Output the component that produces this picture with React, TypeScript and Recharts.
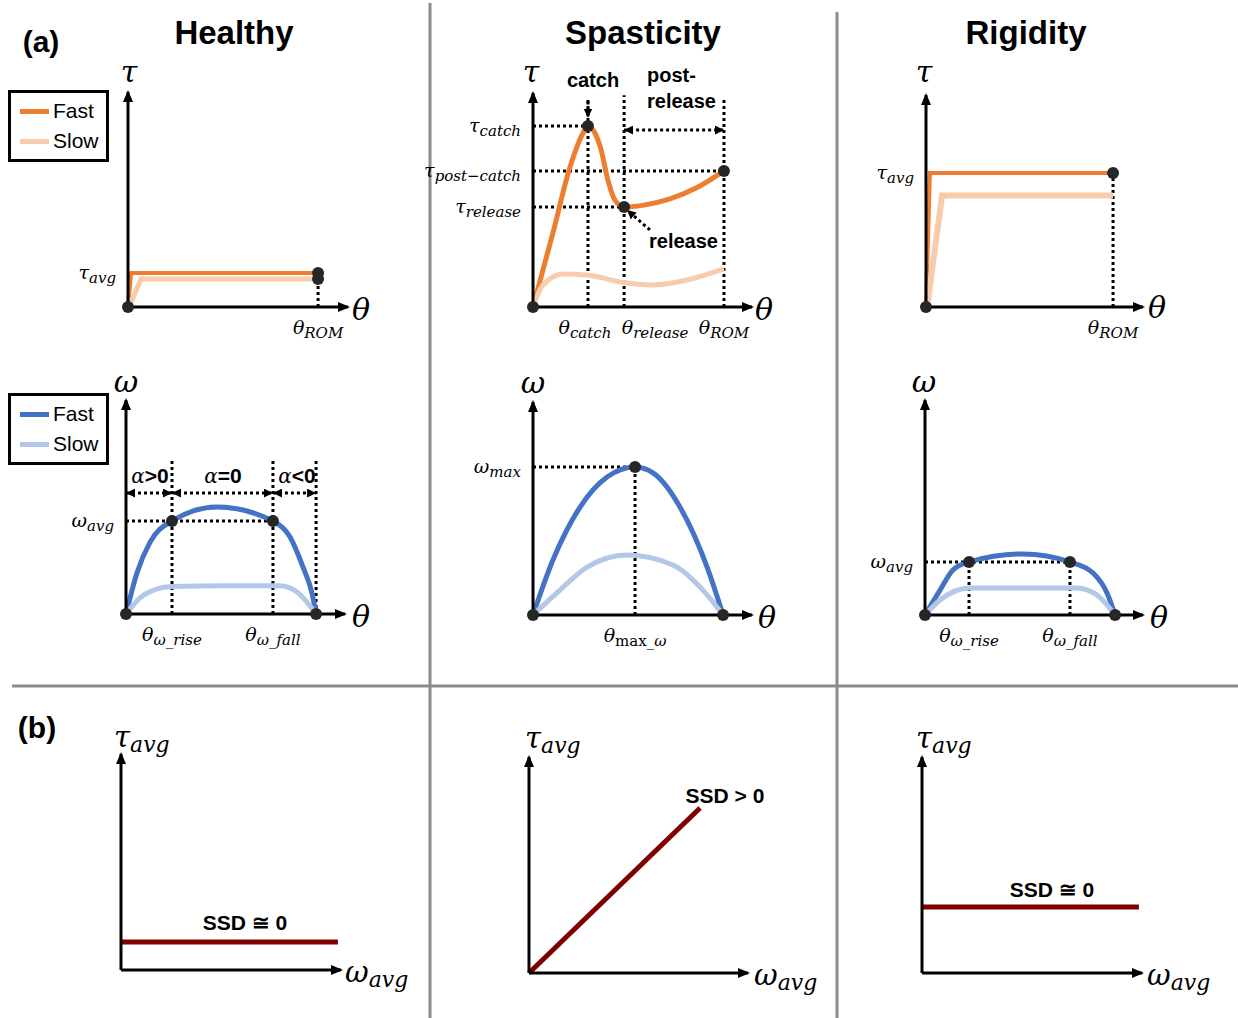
import React from 'react';
import { LineChart, Line, XAxis, YAxis, ReferenceLine, ReferenceDot, Legend } from 'recharts';

const SANS = '"Liberation Sans", Arial, Helvetica, sans-serif';
const SERIF = '"DejaVu Serif", "Liberation Serif", serif';

type Pt = { x: number; y: number };
type Lab = { main: string; sub?: string; plain?: string };
type Guide = { a: Pt; b: Pt; head?: 'end' | 'both' };

// ---------------- DATA (axis units: 0..100 of each drawn axis) ----------------
const names = ['Fast', 'Slow'];

// (a) Healthy – torque vs angle
const healthyTauFast: Pt[] = [{ x: 0, y: 0 }, { x: 1.4, y: 15.8 }, { x: 86.4, y: 15.8 }];
const healthyTauSlow: Pt[] = [{ x: 0.5, y: 0 }, { x: 5.9, y: 13.0 }, { x: 86.4, y: 13.0 }];
const healthyTauXTicks = [86.4];
const healthyTauXLabels: Lab[] = [{ main: 'θ', sub: 'ROM' }];
const healthyTauYTicks = [15.8];
const healthyTauYLabels: Lab[] = [{ main: 'τ', sub: 'avg' }];

// (a) Spasticity – torque vs angle
const spasTauFast: Pt[] = [
  { x: 0, y: 0 }, { x: 9.1, y: 34.6 }, { x: 16.9, y: 65.4 }, { x: 22.4, y: 80.4 }, { x: 25.1, y: 84.6 },
  { x: 28.3, y: 81.3 }, { x: 31.1, y: 73.4 }, { x: 34.2, y: 59.3 }, { x: 37.4, y: 50.0 }, { x: 41.6, y: 46.7 },
  { x: 50.0, y: 47.5 }, { x: 62.6, y: 50.5 }, { x: 74.9, y: 55.8 }, { x: 87.2, y: 63.6 },
];
const spasTauSlow: Pt[] = [
  { x: 0, y: 0 }, { x: 4.6, y: 10.3 }, { x: 13.7, y: 15.4 }, { x: 24.7, y: 15.0 }, { x: 39.7, y: 11.7 },
  { x: 54.8, y: 10.3 }, { x: 70.3, y: 12.6 }, { x: 87.2, y: 17.8 },
];
const spasTauXTicks = [25.1, 41.6, 87.2];
const spasTauXLabels: Lab[] = [{ main: 'θ', sub: 'catch' }, { main: 'θ', sub: 'release' }, { main: 'θ', sub: 'ROM' }];
const spasTauYTicks = [84.6, 63.6, 46.7];
const spasTauYLabels: Lab[] = [{ main: 'τ', sub: 'catch' }, { main: 'τ', sub: 'post−catch' }, { main: 'τ', sub: 'release' }];

// (a) Rigidity – torque vs angle
const rigTauFast: Pt[] = [{ x: 0, y: 0 }, { x: 1.8, y: 63.2 }, { x: 86.2, y: 63.2 }];
const rigTauSlow: Pt[] = [{ x: 0.5, y: 0 }, { x: 7.4, y: 52.6 }, { x: 86.2, y: 52.6 }];
const rigTauXTicks = [86.2];
const rigTauXLabels: Lab[] = [{ main: 'θ', sub: 'ROM' }];
const rigTauYTicks = [63.2];
const rigTauYLabels: Lab[] = [{ main: 'τ', sub: 'avg' }];

// (a) Healthy – velocity vs angle
const healthyOmFast: Pt[] = [
  { x: 0, y: 0 }, { x: 5.0, y: 19.2 }, { x: 11.0, y: 33.6 }, { x: 21.0, y: 43.5 }, { x: 41.6, y: 50.0 },
  { x: 67.1, y: 43.5 }, { x: 74.9, y: 36.0 }, { x: 80.8, y: 22.0 }, { x: 84.9, y: 9.8 }, { x: 86.8, y: 0 },
];
const healthyOmSlow: Pt[] = [
  { x: 0, y: 0 }, { x: 6.4, y: 7.5 }, { x: 14.2, y: 11.7 }, { x: 21.0, y: 12.8 }, { x: 45.0, y: 13.2 },
  { x: 70.3, y: 13.2 }, { x: 78.1, y: 10.3 }, { x: 86.8, y: 0 },
];
const healthyOmXTicks = [21.0, 67.1];
const healthyOmXLabels: Lab[] = [{ main: 'θ', sub: 'ω_rise' }, { main: 'θ', sub: 'ω_fall' }];
const healthyOmYTicks = [43.5];
const healthyOmYLabels: Lab[] = [{ main: 'ω', sub: 'avg' }];

// (a) Spasticity – velocity vs angle
const spasOmFast: Pt[] = [
  { x: 0, y: 0 }, { x: 9.1, y: 25.8 }, { x: 21.5, y: 50.7 }, { x: 33.8, y: 64.8 }, { x: 46.6, y: 69.5 },
  { x: 54.8, y: 66.7 }, { x: 67.1, y: 50.7 }, { x: 79.5, y: 22.5 }, { x: 86.8, y: 0 },
];
const spasOmSlow: Pt[] = [
  { x: 0, y: 0 }, { x: 12.3, y: 11.7 }, { x: 24.7, y: 22.5 }, { x: 42.9, y: 28.2 }, { x: 63.9, y: 23.5 },
  { x: 77.6, y: 11.7 }, { x: 86.8, y: 0 },
];
const spasOmXTicks = [46.6];
const spasOmXLabels: Lab[] = [{ main: 'θ', plain: 'max', sub: '_ω' }];
const spasOmYTicks = [69.5];
const spasOmYLabels: Lab[] = [{ main: 'ω', sub: 'max' }];

// (a) Rigidity – velocity vs angle
const rigOmFast: Pt[] = [
  { x: 0, y: 0 }, { x: 6.9, y: 11.6 }, { x: 12.8, y: 20.9 }, { x: 20.2, y: 24.7 }, { x: 45.0, y: 28.4 },
  { x: 66.5, y: 24.7 }, { x: 77.1, y: 19.5 }, { x: 83.5, y: 10.2 }, { x: 87.2, y: 0 },
];
const rigOmSlow: Pt[] = [
  { x: 0, y: 0 }, { x: 6.9, y: 7.0 }, { x: 20.6, y: 12.6 }, { x: 69.7, y: 12.6 }, { x: 78.9, y: 9.3 }, { x: 87.2, y: 0 },
];
const rigOmXTicks = [20.2, 66.5];
const rigOmXLabels: Lab[] = [{ main: 'θ', sub: 'ω_rise' }, { main: 'θ', sub: 'ω_fall' }];
const rigOmYTicks = [24.7];
const rigOmYLabels: Lab[] = [{ main: 'ω', sub: 'avg' }];

// (b) torque vs velocity
const ssdHealthy: Pt[] = [{ x: 0, y: 13.0 }, { x: 98.6, y: 13.0 }];
const ssdSpas: Pt[] = [{ x: 0, y: 0 }, { x: 78.1, y: 76.4 }];
const ssdRig: Pt[] = [{ x: 0, y: 30.6 }, { x: 98.6, y: 30.6 }];

// ---------------- STYLE / LAYOUT ----------------
const ORANGE = '#ED7D31';
const ORANGE_L = '#F8CBAD';
const BLUE = '#4472C4';
const BLUE_L = '#B4C7E7';
const DARKRED = '#800000';
const DOT = '#262626';
const GRAY = '#8C8C8C';
const M = { l: 140, r: 60, t: 60, b: 60 };
const AX = 1; // axis band size (must be > 0 for Recharts to draw the axis)
const spasTauXLabelShift = [-3, 31, 0]; // horizontal nudge (px) of the x tick labels

type Series = { name: string; data: Pt[]; color: string; width: number; curve: 'linear' | 'monotone' };
type Box = { ox: number; oy: number; w: number; h: number };

const mathText = (x: number, y: number, lab: Lab, anchor: string, mainSize: number, subSize: number, subDy: number, key?: string) => (
  <text key={key} x={x} y={y} textAnchor={anchor} fontFamily={SERIF} fill="#000">
    <tspan fontStyle="italic" fontSize={mainSize}>{lab.main}</tspan>
    {lab.plain ? <tspan fontSize={subSize} dy={subDy}>{lab.plain}</tspan> : null}
    {lab.sub ? <tspan fontStyle="italic" fontSize={subSize} dy={lab.plain ? 0 : subDy}>{lab.sub}</tspan> : null}
  </text>
);

const xTickRenderer = (ticks: number[], labels: Lab[], shift: number[]) => (p: any) => {
  const i = ticks.indexOf(p.payload.value);
  if (i < 0) return <g />;
  return <g>{mathText(p.x + (shift[i] || 0), p.y + 27, labels[i], 'middle', 19, 15, 4)}</g>;
};
const yTickRenderer = (ticks: number[], labels: Lab[]) => (p: any) => {
  const i = ticks.indexOf(p.payload.value);
  if (i < 0) return <g />;
  return <g>{mathText(p.x - 12, p.y + 6, labels[i], 'end', 19, 15, 4)}</g>;
};

const guideShape = (head?: 'end' | 'both') => (p: any) => (
  <line
    x1={p.x1} y1={p.y1} x2={p.x2} y2={p.y2}
    stroke="#000" strokeWidth={3} strokeDasharray="3 3"
    markerEnd={head ? 'url(#gArrow)' : undefined}
    markerStart={head === 'both' ? 'url(#gArrow)' : undefined}
  />
);

const renderLegend = (props: any) => {
  const payload = props.payload || [];
  return (
    <div style={{ border: '3px solid #000', background: '#fff', padding: '3px 6px 3px 9px', width: 101, boxSizing: 'border-box', fontFamily: SANS, fontSize: 21, color: '#000' }}>
      {payload.map((e: any) => (
        <div key={e.value} style={{ display: 'flex', alignItems: 'center', height: 30 }}>
          <span style={{ display: 'inline-block', width: 29, height: 5, background: e.color, marginRight: 4 }} />
          <span>{e.value}</span>
        </div>
      ))}
    </div>
  );
};

type PanelProps = {
  box: Box; series: Series[]; dots?: Pt[]; guides?: Guide[];
  xTicks?: number[]; xLabels?: Lab[]; xShift?: number[]; yTicks?: number[]; yLabels?: Lab[];
  legendAt?: Pt;
};

function Panel({ box, series, dots = [], guides = [], xTicks = [], xLabels = [], xShift = [], yTicks = [], yLabels = [], legendAt }: PanelProps) {
  const { ox, oy, w, h } = box;
  const left = ox - M.l - AX;
  const top = oy - h - M.t;
  return (
    <div style={{ position: 'absolute', left, top }}>
      <LineChart width={M.l + AX + w + M.r} height={M.t + h + AX + M.b} margin={{ top: M.t, right: M.r, bottom: M.b, left: M.l }}>
        <XAxis
          type="number" dataKey="x" domain={[0, 100]} ticks={xTicks.length ? xTicks : [0]} interval={0}
          height={AX} tickSize={0} tickMargin={0} tickLine={false}
          tick={xTicks.length ? xTickRenderer(xTicks, xLabels, xShift) : false}
          axisLine={{ stroke: '#000', strokeWidth: 3, markerEnd: 'url(#axArrow)' } as any}
        />
        <YAxis
          type="number" domain={[0, 100]} ticks={yTicks.length ? yTicks : [0]} interval={0}
          width={AX} tickSize={0} tickMargin={0} tickLine={false}
          tick={yTicks.length ? yTickRenderer(yTicks, yLabels) : false}
          axisLine={{ stroke: '#000', strokeWidth: 3, markerStart: 'url(#axArrow)' } as any}
        />
        {guides.map((g, i) => (
          <ReferenceLine key={'g' + i} segment={[g.a, g.b]} ifOverflow="visible" shape={guideShape(g.head) as any} />
        ))}
        {series.map((s) => (
          <Line key={s.name} name={s.name} data={s.data} dataKey="y" type={s.curve} stroke={s.color}
            strokeWidth={s.width} dot={false} activeDot={false} isAnimationActive={false} />
        ))}
        {dots.map((d, i) => (
          <ReferenceDot key={'d' + i} x={d.x} y={d.y} r={6} fill={DOT} stroke="none" ifOverflow="visible" />
        ))}
        {legendAt ? (
          <Legend layout="vertical" align="center" verticalAlign="middle" content={renderLegend}
            wrapperStyle={{ left: legendAt.x - left, top: legendAt.y - top, width: 'auto', height: 'auto' }} />
        ) : null}
      </LineChart>
    </div>
  );
}

const T = ({ x, y, size = 20, weight = 'normal', anchor = 'middle', children }: any) => (
  <text x={x} y={y} fontSize={size} fontWeight={weight} textAnchor={anchor} fontFamily={SANS} fill="#000">{children}</text>
);
const AxisLetter = ({ x, y, children }: any) => (
  <text x={x} y={y} fontSize={30} fontStyle="italic" textAnchor="middle" fontFamily={SERIF} fill="#000">{children}</text>
);
const Alpha = ({ x, y, rest }: any) => (
  <text x={x} y={y} textAnchor="middle" fill="#000">
    <tspan fontFamily={SERIF} fontStyle="italic" fontSize={20}>α</tspan>
    <tspan fontFamily={SANS} fontWeight="bold" fontSize={21}>{rest}</tspan>
  </text>
);

export default function App() {
  const orange = (f: Pt[], s: Pt[], fw = 4, sw = 5, curve: 'linear' | 'monotone' = 'linear'): Series[] => [
    { name: names[0], data: f, color: ORANGE, width: fw, curve },
    { name: names[1], data: s, color: ORANGE_L, width: sw, curve },
  ];
  const blue = (f: Pt[], s: Pt[]): Series[] => [
    { name: names[0], data: f, color: BLUE, width: 5, curve: 'monotone' },
    { name: names[1], data: s, color: BLUE_L, width: 5, curve: 'monotone' },
  ];
  const red = (d: Pt[]): Series[] => [{ name: 'SSD', data: d, color: DARKRED, width: 5, curve: 'linear' }];

  return (
    <div style={{ position: 'absolute', left: 0, top: 0, width: 1238, height: 1018, background: '#fff', overflow: 'hidden' }}>
      <svg width={1238} height={1018} style={{ position: 'absolute', left: 0, top: 0 }}>
        <defs>
          <marker id="axArrow" viewBox="0 0 12 10" markerWidth={12} markerHeight={10} refX={10} refY={5}
            markerUnits="userSpaceOnUse" orient="auto-start-reverse">
            <path d="M0,0 L12,5 L0,10 Z" fill="#000" />
          </marker>
          <marker id="gArrow" viewBox="0 0 9 9" markerWidth={9} markerHeight={9} refX={9} refY={4.5}
            markerUnits="userSpaceOnUse" orient="auto-start-reverse">
            <path d="M0,0 L9,4.5 L0,9 Z" fill="#000" />
          </marker>
        </defs>
        {/* dividers */}
        <line x1={430} y1={3} x2={430} y2={1018} stroke={GRAY} strokeWidth={3} />
        <line x1={837} y1={12} x2={837} y2={1018} stroke={GRAY} strokeWidth={3} />
        <line x1={12} y1={686} x2={1238} y2={686} stroke={GRAY} strokeWidth={3} />

        <T x={41} y={52} size={30} weight="bold">(a)</T>
        <T x={234} y={44} size={33} weight="bold">Healthy</T>
        <T x={643} y={44} size={33} weight="bold">Spasticity</T>
        <T x={1026} y={44} size={33} weight="bold">Rigidity</T>
        <T x={37} y={738} size={30} weight="bold">(b)</T>

        <AxisLetter x={129} y={82}>τ</AxisLetter>
        <AxisLetter x={361} y={320}>θ</AxisLetter>
        <AxisLetter x={531} y={82}>τ</AxisLetter>
        <AxisLetter x={764} y={320}>θ</AxisLetter>
        <AxisLetter x={924} y={82}>τ</AxisLetter>
        <AxisLetter x={1157} y={318}>θ</AxisLetter>
        <AxisLetter x={126} y={392}>ω</AxisLetter>
        <AxisLetter x={361} y={627}>θ</AxisLetter>
        <AxisLetter x={533} y={393}>ω</AxisLetter>
        <AxisLetter x={767} y={628}>θ</AxisLetter>
        <AxisLetter x={924} y={392}>ω</AxisLetter>
        <AxisLetter x={1159} y={628}>θ</AxisLetter>

        <T x={593} y={87} weight="bold">catch</T>
        <T x={647} y={82} weight="bold" anchor="start">post-</T>
        <T x={647} y={108} weight="bold" anchor="start">release</T>
        <T x={649} y={248} weight="bold" anchor="start">release</T>

        <Alpha x={150} y={483} rest=">0" />
        <Alpha x={223} y={483} rest="=0" />
        <Alpha x={297} y={483} rest="<0" />

        <T x={245} y={930} size={21} weight="bold">SSD ≅ 0</T>
        <T x={725} y={803} size={21} weight="bold">SSD &gt; 0</T>
        <T x={1052} y={897} size={21} weight="bold">SSD ≅ 0</T>

        {mathText(114, 747, { main: 'τ', sub: 'avg' }, 'start', 29, 22, 5, 'b1')}
        {mathText(525, 748, { main: 'τ', sub: 'avg' }, 'start', 29, 22, 5, 'b2')}
        {mathText(916, 748, { main: 'τ', sub: 'avg' }, 'start', 29, 22, 5, 'b3')}
        {mathText(345, 982, { main: 'ω', sub: 'avg' }, 'start', 29, 22, 5, 'b4')}
        {mathText(754, 985, { main: 'ω', sub: 'avg' }, 'start', 29, 22, 5, 'b5')}
        {mathText(1147, 985, { main: 'ω', sub: 'avg' }, 'start', 29, 22, 5, 'b6')}
      </svg>

      <Panel
        box={{ ox: 128, oy: 307, w: 220, h: 215 }}
        series={orange(healthyTauFast, healthyTauSlow)}
        dots={[{ x: 0, y: 0 }, { x: 86.4, y: 15.8 }, { x: 86.4, y: 13.0 }]}
        guides={[{ a: { x: 86.4, y: 0 }, b: { x: 86.4, y: 13.0 } }]}
        xTicks={healthyTauXTicks} xLabels={healthyTauXLabels} yTicks={healthyTauYTicks} yLabels={healthyTauYLabels}
        legendAt={{ x: 8, y: 90 }}
      />
      <Panel
        box={{ ox: 533, oy: 307, w: 219, h: 214 }}
        series={orange(spasTauFast, spasTauSlow, 5, 5, 'monotone')}
        dots={[{ x: 0, y: 0 }, { x: 25.1, y: 84.6 }, { x: 41.6, y: 46.7 }, { x: 87.2, y: 63.6 }]}
        guides={[
          { a: { x: 25.1, y: 0 }, b: { x: 25.1, y: 98 } },
          { a: { x: 41.6, y: 0 }, b: { x: 41.6, y: 99 } },
          { a: { x: 87.2, y: 0 }, b: { x: 87.2, y: 98 } },
          { a: { x: 0, y: 84.6 }, b: { x: 25.1, y: 84.6 } },
          { a: { x: 0, y: 63.6 }, b: { x: 87.2, y: 63.6 } },
          { a: { x: 0, y: 46.7 }, b: { x: 41.6, y: 46.7 } },
          { a: { x: 25.1, y: 96 }, b: { x: 25.1, y: 88.5 }, head: 'end' },
          { a: { x: 41.6, y: 82.7 }, b: { x: 87.2, y: 82.7 }, head: 'both' },
          { a: { x: 53.4, y: 36.0 }, b: { x: 42.9, y: 45.3 }, head: 'end' },
        ]}
        xTicks={spasTauXTicks} xLabels={spasTauXLabels} xShift={spasTauXLabelShift}
        yTicks={spasTauYTicks} yLabels={spasTauYLabels}
      />
      <Panel
        box={{ ox: 926, oy: 307, w: 217, h: 212 }}
        series={orange(rigTauFast, rigTauSlow, 4, 6)}
        dots={[{ x: 0, y: 0 }, { x: 86.2, y: 63.2 }]}
        guides={[{ a: { x: 86.2, y: 0 }, b: { x: 86.2, y: 63.2 } }]}
        xTicks={rigTauXTicks} xLabels={rigTauXLabels} yTicks={rigTauYTicks} yLabels={rigTauYLabels}
      />
      <Panel
        box={{ ox: 126, oy: 614, w: 219, h: 214 }}
        series={blue(healthyOmFast, healthyOmSlow)}
        dots={[{ x: 0, y: 0 }, { x: 21.0, y: 43.5 }, { x: 67.1, y: 43.5 }, { x: 86.8, y: 0 }]}
        guides={[
          { a: { x: 21.0, y: 0 }, b: { x: 21.0, y: 72 } },
          { a: { x: 67.1, y: 0 }, b: { x: 67.1, y: 72 } },
          { a: { x: 86.8, y: 0 }, b: { x: 86.8, y: 72 } },
          { a: { x: 0, y: 43.5 }, b: { x: 67.1, y: 43.5 } },
          { a: { x: 0, y: 56.5 }, b: { x: 21.0, y: 56.5 }, head: 'both' },
          { a: { x: 21.0, y: 56.5 }, b: { x: 67.1, y: 56.5 }, head: 'both' },
          { a: { x: 67.1, y: 56.5 }, b: { x: 86.8, y: 56.5 }, head: 'both' },
        ]}
        xTicks={healthyOmXTicks} xLabels={healthyOmXLabels} yTicks={healthyOmYTicks} yLabels={healthyOmYLabels}
        legendAt={{ x: 8, y: 393 }}
      />
      <Panel
        box={{ ox: 533, oy: 615, w: 219, h: 213 }}
        series={blue(spasOmFast, spasOmSlow)}
        dots={[{ x: 0, y: 0 }, { x: 46.6, y: 69.5 }, { x: 86.8, y: 0 }]}
        guides={[
          { a: { x: 0, y: 69.5 }, b: { x: 46.6, y: 69.5 } },
          { a: { x: 46.6, y: 0 }, b: { x: 46.6, y: 69.5 } },
        ]}
        xTicks={spasOmXTicks} xLabels={spasOmXLabels} yTicks={spasOmYTicks} yLabels={spasOmYLabels}
      />
      <Panel
        box={{ ox: 925, oy: 615, w: 218, h: 215 }}
        series={blue(rigOmFast, rigOmSlow)}
        dots={[{ x: 0, y: 0 }, { x: 20.2, y: 24.7 }, { x: 66.5, y: 24.7 }, { x: 87.2, y: 0 }]}
        guides={[
          { a: { x: 0, y: 24.7 }, b: { x: 66.5, y: 24.7 } },
          { a: { x: 20.2, y: 0 }, b: { x: 20.2, y: 24.7 } },
          { a: { x: 66.5, y: 0 }, b: { x: 66.5, y: 24.7 } },
        ]}
        xTicks={rigOmXTicks} xLabels={rigOmXLabels} yTicks={rigOmYTicks} yLabels={rigOmYLabels}
      />
      <Panel box={{ ox: 121, oy: 970, w: 220, h: 216 }} series={red(ssdHealthy)} />
      <Panel box={{ ox: 529, oy: 973, w: 219, h: 216 }} series={red(ssdSpas)} />
      <Panel box={{ ox: 922, oy: 973, w: 220, h: 216 }} series={red(ssdRig)} />
    </div>
  );
}
